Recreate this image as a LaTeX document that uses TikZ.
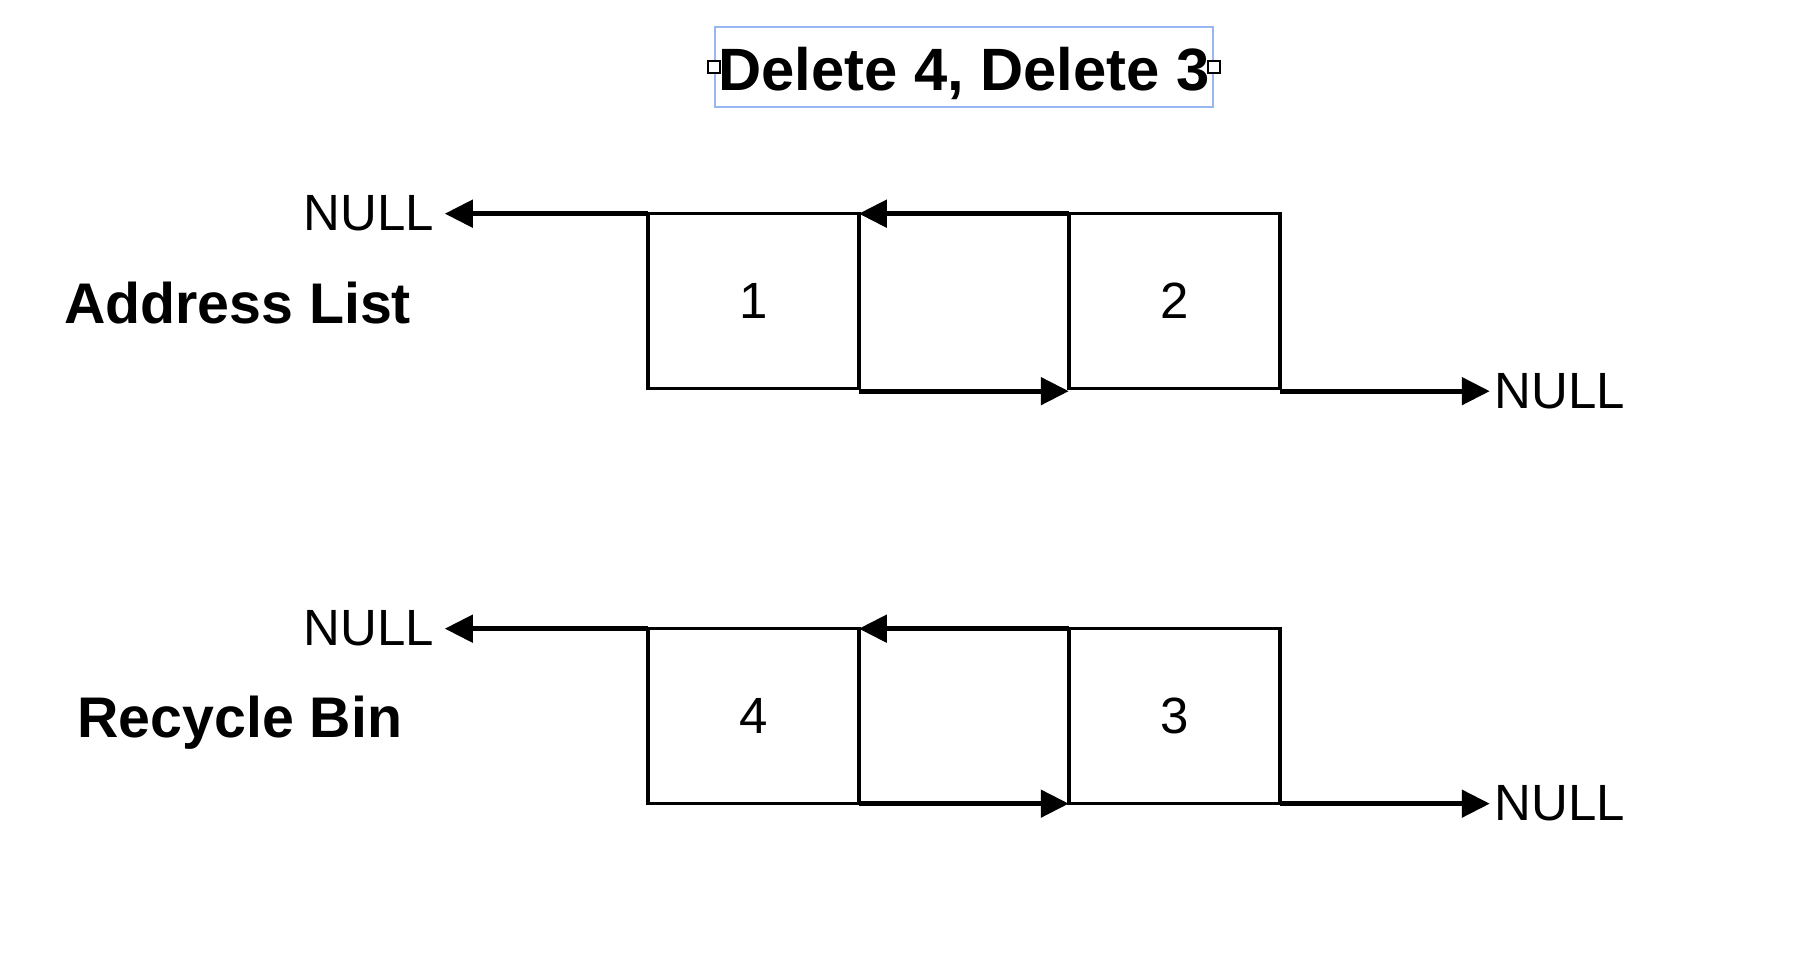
\documentclass[tikz,border=0pt]{standalone}
\usepackage{fontspec}
\setmainfont{Liberation Sans}
\usetikzlibrary{positioning, arrows.meta}
\definecolor{selblue}{RGB}{152,182,240}
\tikzset{
    cell/.style={
        draw,
        line width=1pt,
        minimum width=2.11cm,
        minimum height=1.75cm,
        inner sep=0pt,
        outer sep=0pt,
        font=\fontsize{14.5}{17}\selectfont,
    },
    nulltext/.style={
        inner xsep=0.1cm,
        inner ysep=0pt,
        font=\fontsize{14.5}{17}\selectfont,
    },
    listname/.style={
        inner sep=0pt,
        font=\bfseries\fontsize{16.3}{19}\selectfont,
    },
    titlebox/.style={
        draw=selblue,
        line width=0.5pt,
        minimum width=4.98cm,
        minimum height=0.80cm,
        inner sep=0pt,
        text height=0.57cm,
        text depth=0.1cm,
        font=\bfseries\fontsize{17}{20}\selectfont,
    },
    handle/.style={
        draw,
        fill=white,
        line width=0.4pt,
        minimum size=0.12cm,
        inner sep=0pt,
    },
    link/.style={
        line width=1.4pt,
        -{Triangle[length=0.28cm, width=0.27cm]},
    }
}

\begin{document}
\begin{tikzpicture}
                   \useasboundingbox (0,0) rectangle (18.2,9.68);
                   \node[titlebox] (title) at (9.64,9.01) {Delete 4, Delete 3};
                   \node[handle] (hl) at (title.west) {};
                   \node[handle] (hr) at (title.east) {};
                   % address list
                   \node[cell] (one) at (7.533,6.668) {1};
                   \node[cell, right=2.10cm of one] (two) {2};
                   \node[listname, left=2.36cm of one, yshift=-0.02cm] (addr) {Address List};
                   \node[nulltext, anchor=east] (nl1) at ([xshift=-2.03cm]one.north west) {NULL};
                   \node[nulltext, inner xsep=0.04cm, anchor=west] (nr1) at ([xshift=2.10cm, yshift=-0.025cm]two.south east) {NULL};
                   \draw[link] (one.north west) to (nl1.east);
                   \draw[link] (two.north west) to (one.north east);
                   \draw[link] ([yshift=-0.025cm]one.south east) to ([yshift=-0.025cm]two.south west);
                   \draw[link] ([yshift=-0.025cm]two.south east) to (nr1.west);
                   % recycle bin
                   \node[cell, below=2.40cm of one] (four) {4};
                   \node[cell, right=2.10cm of four] (three) {3};
                   \node[listname, left=2.45cm of four, yshift=-0.07cm] (bin) {Recycle Bin};
                   \node[nulltext, anchor=east] (nl2) at ([xshift=-2.03cm]four.north west) {NULL};
                   \node[nulltext, inner xsep=0.04cm, anchor=west] (nr2) at ([xshift=2.10cm]three.south east) {NULL};
                   \draw[link] (four.north west) to (nl2.east);
                   \draw[link] (three.north west) to (four.north east);
                   \draw[link] (four.south east) to (three.south west);
                   \draw[link] (three.south east) to (nr2.west);
\end{tikzpicture}
\end{document}
